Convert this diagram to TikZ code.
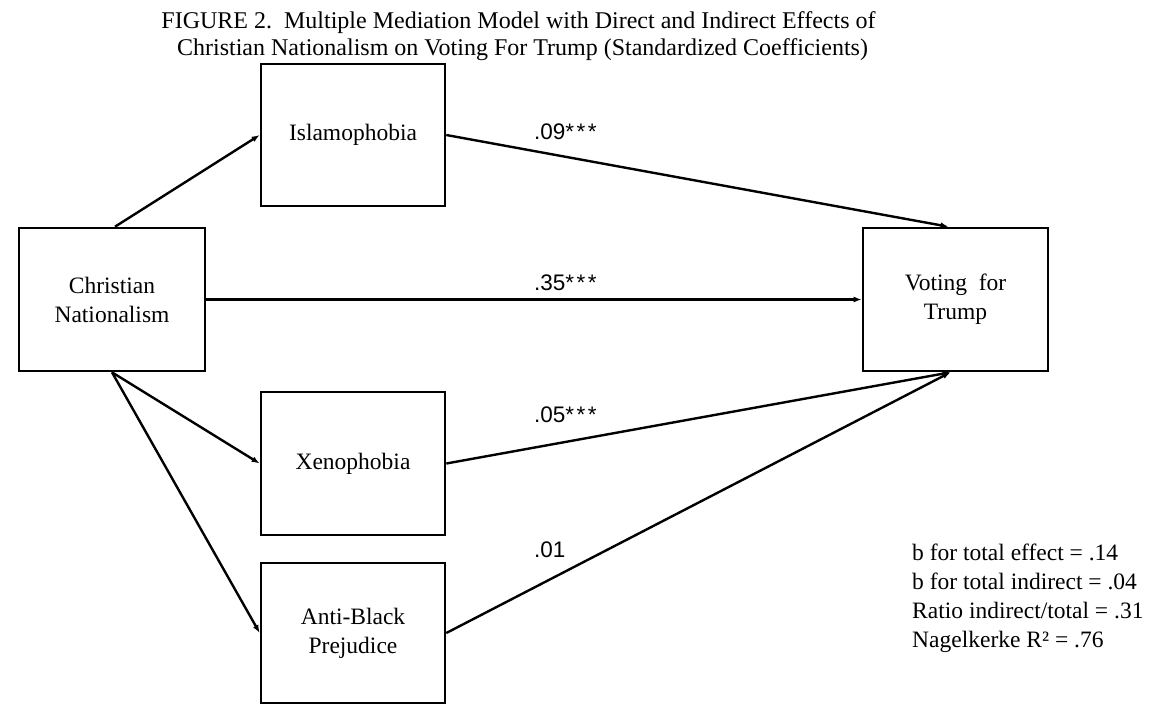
\documentclass[tikz,border=0pt]{standalone}
\usepackage{fontspec}
\setmainfont{Liberation Serif}
\newfontfamily\lsans{Liberation Sans}
\usetikzlibrary{arrows.meta,calc}
\newcommand{\stars}{*\kern2.5pt*\kern2.5pt*}
\begin{document}
\begin{tikzpicture}[x=1pt,y=-1pt,
  box/.style={draw,line width=2.6pt,minimum width=184pt,minimum height=142pt,inner sep=0pt,align=center,font=\fontsize{23.5}{29}\selectfont},
  conn/.style={line width=2.4pt,-{Latex[length=8pt,width=6pt]}},
  coef/.style={font=\lsans\fontsize{22.5}{26}\selectfont,anchor=west,inner sep=0pt},
  ttl/.style={font=\fontsize{24}{28}\selectfont,anchor=base,inner sep=0pt},
  stat/.style={font=\fontsize{23.5}{29}\selectfont,anchor=base west,inner sep=0pt},
]
\useasboundingbox (0,0) rectangle (1150,705);
\node[ttl] (t1) at (518.5,28) {FIGURE 2.\ \ Multiple Mediation Model with Direct and Indirect Effects of};
\node[ttl] (t2) at (522.5,55) {Christian Nationalism on Voting For Trump (Standardized Coefficients)};

\node[box,minimum width=186pt,minimum height=143pt] (cn) at (112,299.5) {Christian\\Nationalism};
\node[box] (isl) at (353,135) {Islamophobia};
\node[box,minimum height=143pt] (xen) at (353,463.5) {Xenophobia};
\node[box,minimum height=140pt] (ab) at (353,633) {Anti-Black\\Prejudice};
\node[box,minimum width=185pt,minimum height=143pt] (vote) at (955.5,299.5) {Voting\ \ for\\Trump};

\coordinate (cnn) at ($(cn.north)+(3,0)$);
\coordinate (vn) at ($(vote.north)+(-7,0)$);
\coordinate (vs) at ($(vote.south)+(-5,0)$);

\draw[conn] (cnn) -- (isl.west);
\draw[conn] (cn.east) -- (vote.west);
\draw[conn] (cn.south) -- (xen.west);
\draw[conn] (cn.south) -- (ab.west);
\draw[conn] (isl.east) -- (vn);
\draw[conn] (xen.east) -- (vs);
\draw[conn] (ab.east) -- (vs);

\node[coef] (c1) at (534,132) {.09\stars};
\node[coef] (c2) at (534,283) {.35\stars};
\node[coef] (c3) at (534,415) {.05\stars};
\node[coef] (c4) at (534,550) {.01};

\node[stat] (s1) at (912,560) {b for total effect = .14};
\node[stat] (s2) at (912,589) {b for total indirect = .04};
\node[stat] (s3) at (912,618) {Ratio indirect/total = .31};
\node[stat] (s4) at (912,647) {Nagelkerke R² = .76};
\end{tikzpicture}
\end{document}
